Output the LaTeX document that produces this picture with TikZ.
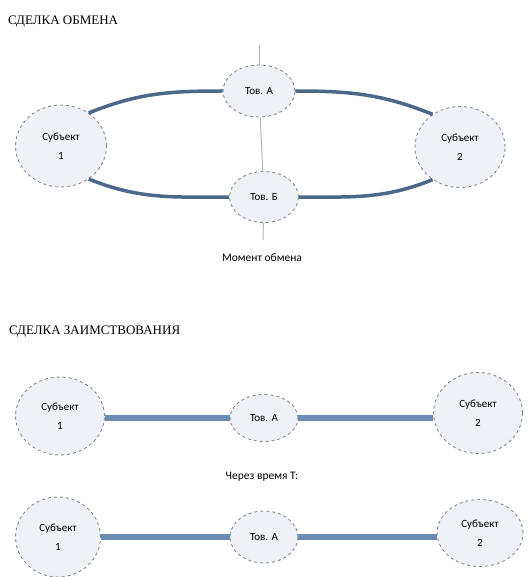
\documentclass[tikz,border=0pt]{standalone}
\usepackage{fontspec}
\setmainfont{Carlito}
\newfontfamily\titlefont{Liberation Serif}
\usetikzlibrary{shapes.geometric}
\definecolor{lineA}{HTML}{4B6888}
\definecolor{lineB}{HTML}{6A8CB2}
\definecolor{thinC}{HTML}{A8B8CC}
\definecolor{entfill}{HTML}{EEF1F6}
\definecolor{entdraw}{HTML}{8C8C8C}
\begin{document}
\begin{tikzpicture}[x=1pt,y=-1pt,
  ent/.style={ellipse, draw=entdraw, dashed, line width=0.9pt, fill=entfill, inner sep=0pt, font=\fontsize{11}{13}\selectfont, align=center},
  thick1/.style={line width=3.5pt, draw=lineA},
  thick2/.style={line width=6pt, draw=lineB},
  thin1/.style={line width=1pt, draw=thinC},
  lbl/.style={font=\fontsize{11.5}{13}\selectfont},
  ttl/.style={font=\titlefont\fontsize{13}{15}\selectfont, anchor=west, inner sep=0pt}
]
\useasboundingbox (0,0) rectangle (528,577);
% titles
\node[ttl] (t1) at (8,22) {СДЕЛКА ОБМЕНА};
\node[ttl] (t2) at (9,332) {СДЕЛКА ЗАИМСТВОВАНИЯ};
% top diagram
\coordinate (vtop) at (259,45);
\coordinate (vbot) at (263,240);
\node[ent, minimum width=91pt, minimum height=82pt] (s1) at (61,146) {Субъект\\[6pt]1};
\node[ent, minimum width=90pt, minimum height=81pt] (s2) at (460,147) {Субъект\\[6pt]2};
\node[ent, minimum width=72pt, minimum height=52pt] (a) at (259,91) {Тов. А};
\node[ent, minimum width=69pt, minimum height=51pt] (b) at (264,197) {Тов. Б};
\draw[thin1] (vtop) -- (a);
\draw[thin1] (a) -- (b);
\draw[thin1] (b) -- (vbot);
\draw[thick1] (s1.50) to[out=22,in=180] (a.west);
\draw[thick1] (a.east) to[out=0,in=158] (s2.130);
\draw[thick1] (s1.-50) to[out=-22,in=180] (b.west);
\draw[thick1] (b.east) to[out=0,in=-158] (s2.-130);
\node[lbl] (lm) at (262,258) {Момент обмена};
% bottom diagram row 1
\node[ent, minimum width=89pt, minimum height=78pt] (r1s1) at (60,416) {Субъект\\[6pt]1};
\node[ent, minimum width=68pt, minimum height=47pt] (r1a) at (264,418) {Тов. А};
\node[ent, minimum width=89pt, minimum height=81pt] (r1s2) at (478,413) {Субъект\\[6pt]2};
\draw[thick2] (r1s1.east |- r1a) -- (r1a.west);
\draw[thick2] (r1a.east) -- (r1s2.west |- r1a);
\node[lbl] (lt) at (262,477) {Через время Т:};
% row 2
\node[ent, minimum width=85pt, minimum height=80pt] (r2s1) at (58,537) {Субъект\\[6pt]1};
\node[ent, minimum width=68pt, minimum height=52pt] (r2a) at (264,537) {Тов. А};
\node[ent, minimum width=86pt, minimum height=67pt] (r2s2) at (480,533) {Субъект\\[6pt]2};
\draw[thick2] (r2s1.east |- r2a) -- (r2a.west);
\draw[thick2] (r2a.east) -- (r2s2.west |- r2a);
\end{tikzpicture}
\end{document}
